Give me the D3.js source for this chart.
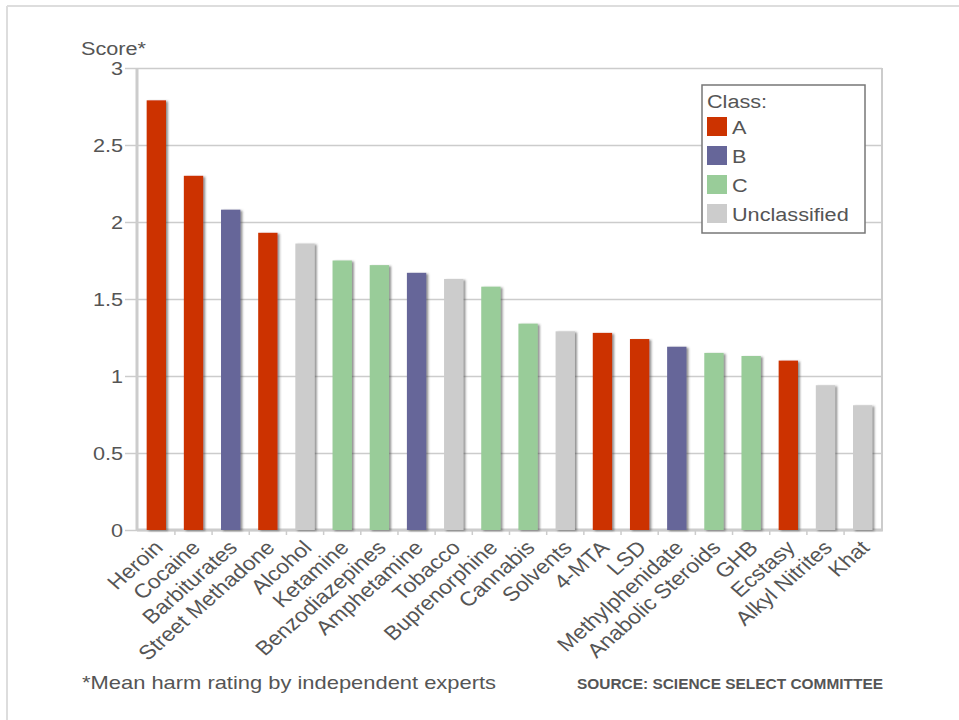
<!DOCTYPE html>
<html>
<head>
<meta charset="utf-8">
<script src="https://cdn.jsdelivr.net/npm/d3@7"></script>
<style>
  html, body { margin: 0; padding: 0; background: #fff; }
  svg { display: block; font-family: "Liberation Sans", Arial, Helvetica, sans-serif; }
</style>
</head>
<body>
<svg id="chart" width="959" height="720"></svg>
<script>
// ---- data ----
const drugs = ["Heroin", "Cocaine", "Barbiturates", "Street Methadone", "Alcohol", "Ketamine",
  "Benzodiazepines", "Amphetamine", "Tobacco", "Buprenorphine", "Cannabis", "Solvents",
  "4-MTA", "LSD", "Methylphenidate", "Anabolic Steroids", "GHB", "Ecstasy", "Alkyl Nitrites", "Khat"];
const scores = [2.79, 2.30, 2.08, 1.93, 1.86, 1.75, 1.72, 1.67, 1.63, 1.58,
  1.34, 1.29, 1.28, 1.24, 1.19, 1.15, 1.13, 1.10, 0.94, 0.81];
const drugClass = ["A", "A", "B", "A", "U", "C", "C", "B", "U", "C",
  "C", "U", "A", "A", "B", "C", "C", "A", "U", "U"];
const classKeys = ["A", "B", "C", "U"];
const classLabels = ["A", "B", "C", "Unclassified"];
const classColors = ["#cc3300", "#666699", "#99cc99", "#cccccc"];
const yTicks = [0, 0.5, 1, 1.5, 2, 2.5, 3];

// ---- layout ----
const svg = d3.select("#chart");
const pL = 137, pR = 882, pT = 68, pB = 530;
const textCol = "#555";
const gridCol = "#cccccc";
const SX = 1.14;   // horizontal stretch of the lettering
const FS = 19;

function stretch(sel) {
  sel.each(function () {
    const t = d3.select(this);
    const x0 = +t.attr("x") || 0;
    t.attr("transform", `translate(${x0},0) scale(${SX},1) translate(${-x0},0)`);
  });
}

const x = d3.scaleBand().domain(drugs).range([pL, pR]).paddingInner(0.48).paddingOuter(0.26);
const y = d3.scaleLinear().domain([0, 3]).range([pB, pT]);
const color = d3.scaleOrdinal().domain(classKeys).range(classColors);

// outer border (top & left)
svg.append("line").attr("x1", 7).attr("x2", 959).attr("y1", 6).attr("y2", 6)
  .attr("stroke", "#dddddd").attr("stroke-width", 2);
svg.append("line").attr("x1", 7).attr("x2", 7).attr("y1", 6).attr("y2", 720)
  .attr("stroke", "#dddddd").attr("stroke-width", 2);

const defs = svg.append("defs");
const f = defs.append("filter").attr("id", "shadow").attr("x", "-20%").attr("y", "-5%").attr("width", "150%").attr("height", "115%");
f.append("feDropShadow").attr("dx", 2).attr("dy", 1).attr("stdDeviation", 0.9)
  .attr("flood-color", "#444").attr("flood-opacity", 0.6);

// gridlines
const grid = svg.append("g").attr("transform", `translate(${pL},0)`)
  .call(d3.axisLeft(y).tickValues(yTicks).tickSize(-(pR - pL)).tickFormat(""));
grid.select(".domain").remove();
grid.selectAll("line").attr("stroke", gridCol).attr("stroke-width", 1.5);

// y axis with ticks + labels
const yAxis = svg.append("g").attr("transform", `translate(${pL},0)`)
  .call(d3.axisLeft(y).tickValues(yTicks).tickSize(12).tickPadding(2).tickFormat(d3.format("")));
yAxis.select(".domain").remove();
yAxis.selectAll("line").attr("stroke", gridCol).attr("stroke-width", 1.5);
yAxis.selectAll("text").attr("fill", textCol).attr("font-size", FS)
  .attr("font-family", "'Liberation Sans', Arial, sans-serif").call(stretch);

// frame: left axis, right edge, bottom axis
svg.append("line").attr("x1", pL).attr("x2", pL).attr("y1", pT).attr("y2", pB + 1)
  .attr("stroke", gridCol).attr("stroke-width", 3);
svg.append("line").attr("x1", pR).attr("x2", pR).attr("y1", pT).attr("y2", pB)
  .attr("stroke", gridCol).attr("stroke-width", 2);
svg.append("line").attr("x1", pL).attr("x2", pR + 1).attr("y1", pB).attr("y2", pB)
  .attr("stroke", gridCol).attr("stroke-width", 3);

// x boundary ticks
const gap = (x.step() - x.bandwidth()) / 2;
svg.append("g").selectAll("line").data(drugs.slice(1)).join("line")
  .attr("x1", d => x(d) - gap).attr("x2", d => x(d) - gap)
  .attr("y1", pB).attr("y2", pB + 5)
  .attr("stroke", gridCol).attr("stroke-width", 1.5);

// bars
svg.append("g").selectAll("rect").data(drugs).join("rect")
  .attr("x", d => x(d))
  .attr("width", x.bandwidth())
  .attr("y", (d, i) => y(scores[i]))
  .attr("height", (d, i) => y(0) - y(scores[i]))
  .attr("fill", (d, i) => color(drugClass[i]))
  .attr("filter", "url(#shadow)");

// x labels via axis
const xAxis = svg.append("g").attr("transform", `translate(0,${pB})`)
  .call(d3.axisBottom(x).tickSize(0).tickPadding(0));
xAxis.select(".domain").remove();
xAxis.selectAll("text")
  .attr("fill", textCol).attr("font-size", 20)
  .attr("font-family", "'Liberation Sans', Arial, sans-serif")
  .attr("text-anchor", "end")
  .attr("y", 0).attr("dy", 0)
  .attr("transform", `translate(8,19) scale(${SX},1) rotate(-45)`);

// y title
svg.append("text").attr("x", 81).attr("y", 55).text("Score*")
  .attr("fill", textCol).attr("font-size", FS).call(stretch);

// legend
const lg = svg.append("g");
lg.append("rect").attr("x", 702).attr("y", 85).attr("width", 163).attr("height", 148)
  .attr("fill", "#fff").attr("stroke", "#777").attr("stroke-width", 1.5);
lg.append("text").attr("x", 707).attr("y", 108).text("Class:")
  .attr("fill", textCol).attr("font-size", FS).call(stretch);
classLabels.forEach((lab, i) => {
  lg.append("rect").attr("x", 707).attr("y", 117 + i * 29).attr("width", 20).attr("height", 19)
    .attr("fill", classColors[i]);
  lg.append("text").attr("x", 732).attr("y", 134 + i * 29).text(lab)
    .attr("fill", textCol).attr("font-size", FS).call(stretch);
});

// footer
svg.append("text").attr("x", 82).attr("y", 689).text("*Mean harm rating by independent experts")
  .attr("fill", textCol).attr("font-size", FS)
  .attr("textLength", 414).attr("lengthAdjust", "spacingAndGlyphs");
svg.append("text").attr("x", 577).attr("y", 689).text("SOURCE: SCIENCE SELECT COMMITTEE")
  .attr("fill", textCol).attr("font-size", 14).attr("font-weight", "bold")
  .attr("font-family", "'Liberation Sans Narrow', 'Liberation Sans', Arial, sans-serif")
  .attr("textLength", 306).attr("lengthAdjust", "spacingAndGlyphs");
</script>
</body>
</html>
